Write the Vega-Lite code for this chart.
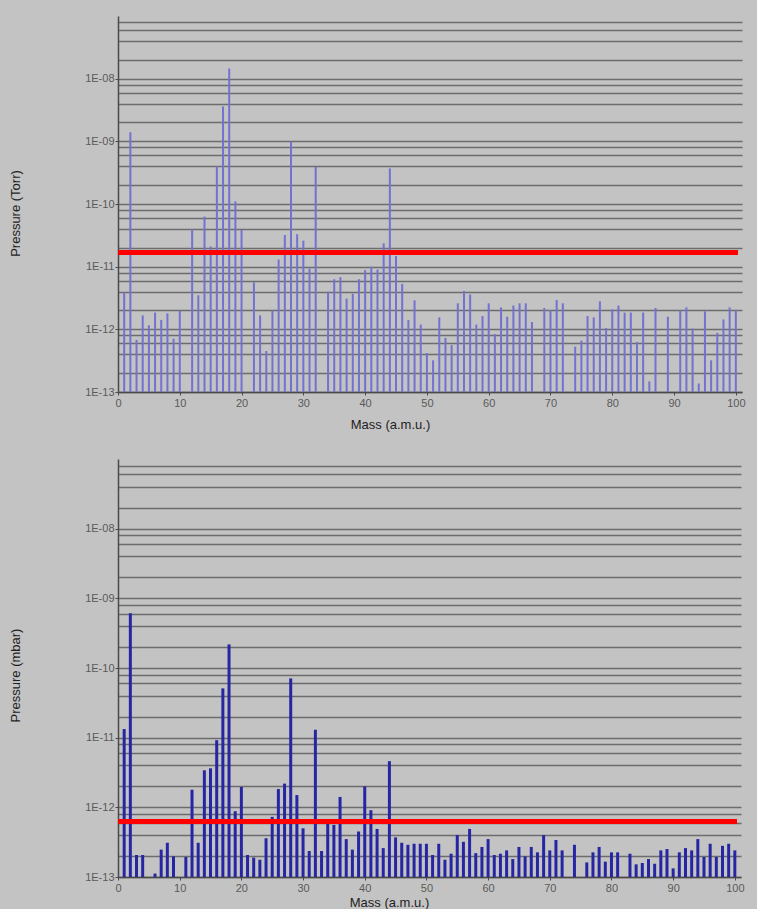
{
  "$schema": "https://vega.github.io/schema/vega-lite/v6.json",
  "background": "#c3c3c3",
  "padding": {"left": 9, "top": 16, "right": 12, "bottom": 0},
  "spacing": 28,
  "config": {
    "view": {"stroke": null, "fill": "#c3c3c3"},
    "font": "Liberation Sans",
    "axis": {
      "labelFont": "Liberation Sans",
      "titleFont": "Liberation Sans",
      "labelFontSize": 11,
      "labelColor": "#5a5a5a",
      "titleFontSize": 13,
      "titleFontWeight": "normal",
      "titleColor": "#1e1e1e",
      "domainColor": "#4a4a4a",
      "domainWidth": 1.5,
      "tickColor": "#4a4a4a",
      "tickSize": 3,
      "labelOverlap": false,
      "labelBound": false,
      "labelFlush": false
    }
  },
  "datasets": {
    "torr": [
      {"mass": 1, "p": 3.9e-12}, {"mass": 2, "p": 1.4e-9}, {"mass": 3, "p": 6.8e-13}, {"mass": 4, "p": 1.67e-12},
      {"mass": 5, "p": 1.16e-12}, {"mass": 6, "p": 1.85e-12}, {"mass": 7, "p": 1.41e-12}, {"mass": 8, "p": 1.8e-12},
      {"mass": 9, "p": 7.1e-13}, {"mass": 10, "p": 1.99e-12}, {"mass": 12, "p": 4.0e-11}, {"mass": 13, "p": 3.5e-12},
      {"mass": 14, "p": 6.3e-11}, {"mass": 15, "p": 2.1e-11}, {"mass": 16, "p": 4.0e-10}, {"mass": 17, "p": 3.6e-9},
      {"mass": 18, "p": 1.45e-8}, {"mass": 19, "p": 1.1e-10}, {"mass": 20, "p": 3.85e-11}, {"mass": 22, "p": 5.6e-12},
      {"mass": 23, "p": 1.67e-12}, {"mass": 24, "p": 4.5e-13}, {"mass": 25, "p": 2.0e-12}, {"mass": 26, "p": 1.3e-11},
      {"mass": 27, "p": 3.2e-11}, {"mass": 28, "p": 1.0e-9}, {"mass": 29, "p": 3.3e-11}, {"mass": 30, "p": 2.6e-11},
      {"mass": 31, "p": 9.3e-12}, {"mass": 32, "p": 3.9e-10}, {"mass": 34, "p": 4.0e-12}, {"mass": 35, "p": 6.3e-12},
      {"mass": 36, "p": 6.8e-12}, {"mass": 37, "p": 3.1e-12}, {"mass": 38, "p": 3.7e-12}, {"mass": 39, "p": 6.3e-12},
      {"mass": 40, "p": 8.8e-12}, {"mass": 41, "p": 1.0e-11}, {"mass": 42, "p": 9.0e-12}, {"mass": 43, "p": 2.36e-11},
      {"mass": 44, "p": 3.7e-10}, {"mass": 45, "p": 1.48e-11}, {"mass": 46, "p": 5.3e-12}, {"mass": 47, "p": 1.41e-12},
      {"mass": 48, "p": 2.9e-12}, {"mass": 49, "p": 1.19e-12}, {"mass": 50, "p": 4.2e-13}, {"mass": 51, "p": 3.2e-13},
      {"mass": 52, "p": 1.55e-12}, {"mass": 53, "p": 7.3e-13}, {"mass": 54, "p": 5.6e-13}, {"mass": 55, "p": 2.6e-12},
      {"mass": 56, "p": 4.1e-12}, {"mass": 57, "p": 3.6e-12}, {"mass": 58, "p": 1.19e-12}, {"mass": 59, "p": 1.63e-12},
      {"mass": 60, "p": 2.6e-12}, {"mass": 61, "p": 8.4e-13}, {"mass": 62, "p": 2.24e-12}, {"mass": 63, "p": 1.59e-12},
      {"mass": 64, "p": 2.4e-12}, {"mass": 65, "p": 2.6e-12}, {"mass": 66, "p": 2.6e-12}, {"mass": 67, "p": 1.31e-12},
      {"mass": 69, "p": 2.19e-12}, {"mass": 70, "p": 2.0e-12}, {"mass": 71, "p": 2.94e-12}, {"mass": 72, "p": 2.6e-12},
      {"mass": 74, "p": 5.3e-13}, {"mass": 75, "p": 6.6e-13}, {"mass": 76, "p": 1.63e-12}, {"mass": 77, "p": 1.55e-12},
      {"mass": 78, "p": 2.8e-12}, {"mass": 79, "p": 1.05e-12}, {"mass": 80, "p": 2.08e-12}, {"mass": 81, "p": 2.4e-12},
      {"mass": 82, "p": 1.85e-12}, {"mass": 83, "p": 1.85e-12}, {"mass": 84, "p": 6.3e-13}, {"mass": 85, "p": 1.85e-12},
      {"mass": 86, "p": 1.48e-13}, {"mass": 87, "p": 2.19e-12}, {"mass": 89, "p": 1.59e-12}, {"mass": 91, "p": 2.0e-12},
      {"mass": 92, "p": 2.24e-12}, {"mass": 93, "p": 1.03e-12}, {"mass": 94, "p": 1.37e-13}, {"mass": 95, "p": 1.94e-12},
      {"mass": 96, "p": 3.2e-13}, {"mass": 97, "p": 8.8e-13}, {"mass": 98, "p": 1.44e-12}, {"mass": 99, "p": 2.24e-12},
      {"mass": 100, "p": 2.0e-12}
    ],
    "mbar": [
      {"mass": 1, "p": 1.33e-11}, {"mass": 2, "p": 6.1e-10}, {"mass": 3, "p": 2.07e-13}, {"mass": 4, "p": 2.07e-13},
      {"mass": 6, "p": 1.12e-13}, {"mass": 7, "p": 2.47e-13}, {"mass": 8, "p": 3.1e-13}, {"mass": 9, "p": 1.98e-13},
      {"mass": 11, "p": 1.94e-13}, {"mass": 12, "p": 1.79e-12}, {"mass": 13, "p": 3.1e-13}, {"mass": 14, "p": 3.4e-12},
      {"mass": 15, "p": 3.63e-12}, {"mass": 16, "p": 9.2e-12}, {"mass": 17, "p": 5.1e-11}, {"mass": 18, "p": 2.18e-10},
      {"mass": 19, "p": 8.8e-13}, {"mass": 20, "p": 1.96e-12}, {"mass": 21, "p": 2.07e-13}, {"mass": 22, "p": 1.9e-13},
      {"mass": 23, "p": 1.77e-13}, {"mass": 24, "p": 3.6e-13}, {"mass": 25, "p": 7.3e-13}, {"mass": 26, "p": 1.83e-12},
      {"mass": 27, "p": 2.19e-12}, {"mass": 28, "p": 7.1e-11}, {"mass": 29, "p": 1.5e-12}, {"mass": 30, "p": 5.0e-13},
      {"mass": 31, "p": 2.36e-13}, {"mass": 32, "p": 1.3e-11}, {"mass": 33, "p": 2.36e-13}, {"mass": 34, "p": 5.8e-13},
      {"mass": 35, "p": 5.6e-13}, {"mass": 36, "p": 1.41e-12}, {"mass": 37, "p": 3.5e-13}, {"mass": 38, "p": 2.47e-13},
      {"mass": 39, "p": 4.5e-13}, {"mass": 40, "p": 2.0e-12}, {"mass": 41, "p": 9.1e-13}, {"mass": 42, "p": 4.9e-13},
      {"mass": 43, "p": 2.6e-13}, {"mass": 44, "p": 4.6e-12}, {"mass": 45, "p": 3.7e-13}, {"mass": 46, "p": 3.1e-13},
      {"mass": 47, "p": 2.9e-13}, {"mass": 48, "p": 3.0e-13}, {"mass": 49, "p": 3.0e-13}, {"mass": 50, "p": 3.0e-13},
      {"mass": 51, "p": 2.07e-13}, {"mass": 52, "p": 3.0e-13}, {"mass": 53, "p": 1.77e-13}, {"mass": 54, "p": 2.16e-13},
      {"mass": 55, "p": 4.0e-13}, {"mass": 56, "p": 3.2e-13}, {"mass": 57, "p": 4.9e-13}, {"mass": 58, "p": 2.2e-13},
      {"mass": 59, "p": 2.7e-13}, {"mass": 60, "p": 3.5e-13}, {"mass": 61, "p": 2.07e-13}, {"mass": 62, "p": 2.16e-13},
      {"mass": 63, "p": 2.41e-13}, {"mass": 64, "p": 1.81e-13}, {"mass": 65, "p": 2.7e-13}, {"mass": 66, "p": 1.98e-13},
      {"mass": 67, "p": 2.7e-13}, {"mass": 68, "p": 2.26e-13}, {"mass": 69, "p": 4.0e-13}, {"mass": 70, "p": 2.41e-13},
      {"mass": 71, "p": 3.4e-13}, {"mass": 72, "p": 2.41e-13}, {"mass": 74, "p": 2.9e-13}, {"mass": 76, "p": 1.62e-13},
      {"mass": 77, "p": 2.26e-13}, {"mass": 78, "p": 2.7e-13}, {"mass": 79, "p": 1.66e-13}, {"mass": 80, "p": 2.26e-13},
      {"mass": 81, "p": 2.26e-13}, {"mass": 83, "p": 2.16e-13}, {"mass": 84, "p": 1.52e-13}, {"mass": 85, "p": 1.59e-13},
      {"mass": 86, "p": 1.81e-13}, {"mass": 87, "p": 1.55e-13}, {"mass": 88, "p": 2.41e-13}, {"mass": 89, "p": 2.52e-13},
      {"mass": 90, "p": 1.33e-13}, {"mass": 91, "p": 2.26e-13}, {"mass": 92, "p": 2.6e-13}, {"mass": 93, "p": 2.41e-13},
      {"mass": 94, "p": 3.5e-13}, {"mass": 95, "p": 1.94e-13}, {"mass": 96, "p": 3.0e-13}, {"mass": 97, "p": 1.94e-13},
      {"mass": 98, "p": 2.8e-13}, {"mass": 99, "p": 3.0e-13}, {"mass": 100, "p": 2.41e-13}
    ]
  },
  "vconcat": [
    {
      "width": 624,
      "height": 376,
      "data": {"name": "torr"},
      "layer": [
        {
          "mark": {"type": "rule", "color": "#7272d2", "strokeWidth": 2},
          "encoding": {
            "x": {
              "field": "mass", "type": "quantitative",
              "scale": {"domain": [0, 101], "nice": false, "zero": false},
              "axis": {"title": "Mass (a.m.u.)", "values": [0, 10, 20, 30, 40, 50, 60, 70, 80, 90, 100], "grid": false, "labelPadding": 2, "titlePadding": 10, "titleX": 272}
            },
            "y": {
              "field": "p", "type": "quantitative",
              "scale": {"type": "log", "domain": [1e-13, 1e-7], "nice": false},
              "axis": {
                "title": "Pressure (Torr)",
                "values": [1e-13, 2e-13, 4e-13, 6e-13, 8e-13, 1e-12, 2e-12, 4e-12, 6e-12, 8e-12, 1e-11, 2e-11, 4e-11, 6e-11, 8e-11, 1e-10, 2e-10, 4e-10, 6e-10, 8e-10, 1e-9, 2e-9, 4e-9, 6e-9, 8e-9, 1e-8, 2e-8, 4e-8, 6e-8, 8e-8],
                "grid": true, "gridColor": "#6c6c6c", "gridWidth": 1.5,
                "labelPadding": 1,
                "labelExpr": "abs(log(datum.value)/LN10 - round(log(datum.value)/LN10)) < 0.01 ? '1E-' + ((-round(log(datum.value)/LN10)) < 10 ? '0' : '') + (-round(log(datum.value)/LN10)) : ''",
                "tickOpacity": {"condition": {"test": "abs(log(datum.value)/LN10 - round(log(datum.value)/LN10)) < 0.01", "value": 1}, "value": 0},
                "titleX": -103, "titleY": 197, "titleBaseline": "middle", "titleAlign": "center"
              }
            },
            "y2": {"datum": 1e-13}
          }
        },
        {
          "mark": {"type": "rule", "color": "#ff0000", "strokeWidth": 4},
          "encoding": {"y": {"datum": 1.67e-11}, "x": {"datum": 0}, "x2": {"datum": 100.3}}
        }
      ]
    },
    {
      "width": 623,
      "height": 418,
      "data": {"name": "mbar"},
      "layer": [
        {
          "mark": {"type": "rule", "color": "#2626a4", "strokeWidth": 3},
          "encoding": {
            "x": {
              "field": "mass", "type": "quantitative",
              "scale": {"domain": [0, 101], "nice": false, "zero": false},
              "axis": {"title": "Mass (a.m.u.)", "values": [0, 10, 20, 30, 40, 50, 60, 70, 80, 90, 100], "grid": false, "labelPadding": 2, "titlePadding": 3, "titleX": 271}
            },
            "y": {
              "field": "p", "type": "quantitative",
              "scale": {"type": "log", "domain": [1e-13, 1e-7], "nice": false},
              "axis": {
                "title": "Pressure (mbar)",
                "values": [1e-13, 2e-13, 4e-13, 6e-13, 8e-13, 1e-12, 2e-12, 4e-12, 6e-12, 8e-12, 1e-11, 2e-11, 4e-11, 6e-11, 8e-11, 1e-10, 2e-10, 4e-10, 6e-10, 8e-10, 1e-9, 2e-9, 4e-9, 6e-9, 8e-9, 1e-8, 2e-8, 4e-8, 6e-8, 8e-8],
                "grid": true, "gridColor": "#6c6c6c", "gridWidth": 1.5,
                "labelPadding": 1,
                "labelExpr": "abs(log(datum.value)/LN10 - round(log(datum.value)/LN10)) < 0.01 ? '1E-' + ((-round(log(datum.value)/LN10)) < 10 ? '0' : '') + (-round(log(datum.value)/LN10)) : ''",
                "tickOpacity": {"condition": {"test": "abs(log(datum.value)/LN10 - round(log(datum.value)/LN10)) < 0.01", "value": 1}, "value": 0},
                "titleX": -103, "titleY": 216, "titleBaseline": "middle", "titleAlign": "center"
              }
            },
            "y2": {"datum": 1e-13}
          }
        },
        {
          "mark": {"type": "rule", "color": "#ff0000", "strokeWidth": 4},
          "encoding": {"y": {"datum": 6.2e-13}, "x": {"datum": 0}, "x2": {"datum": 100.3}}
        }
      ]
    }
  ]
}
